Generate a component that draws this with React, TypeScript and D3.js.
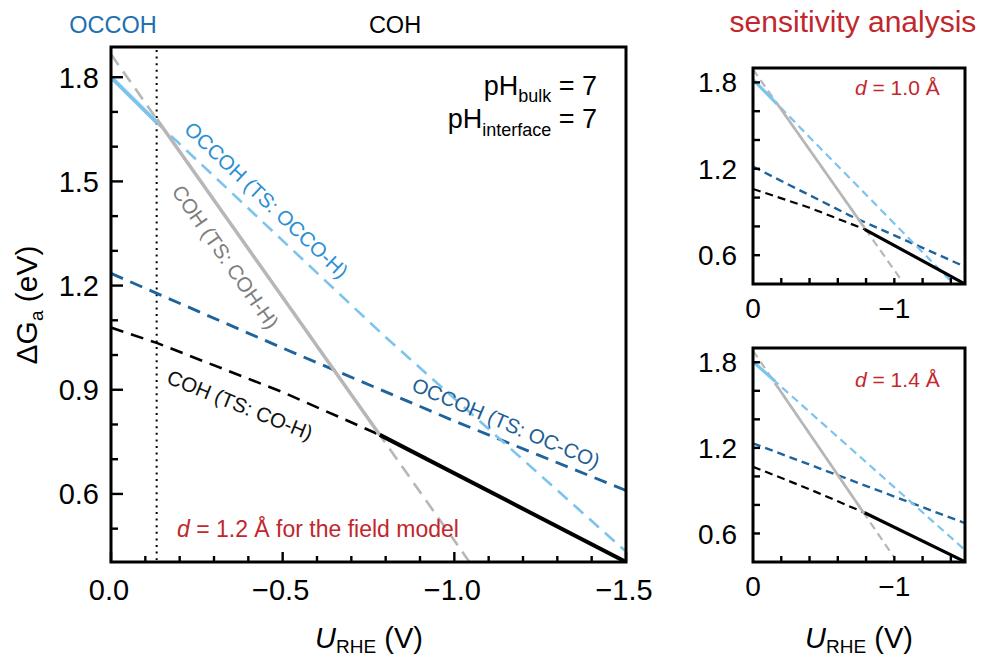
import React from 'react';
import * as d3 from 'd3';

// ---------- data (U in V vs RHE, ΔGa in eV) ----------
// main panel, d = 1.2 Å
const mainOccohOccoHU = [0, -0.135, -0.798, -1.5];
const mainOccohOccoHG = [1.80, 1.668, 1.053, 0.434];
const mainOccohOcCoU = [0, -0.5, -1.0, -1.5];
const mainOccohOcCoG = [1.235, 1.02, 0.81, 0.61];
const mainCohCohHU = [0, -1.047];
const mainCohCohHG = [1.866, 0.40];
const mainCohCoHU = [0, -0.133, -0.5, -0.783, -1.5];
const mainCohCoHG = [1.079, 1.035, 0.893, 0.770, 0.404];
const mainBreaks = [-0.133, -0.783];
const dottedU = -0.133;

// sensitivity, d = 1.0 Å
const d10OccohOccoHU = [0, -1.42];
const d10OccohOccoHG = [1.82, 0.40];
const d10OccohOcCoU = [0, -0.686, -1.5];
const d10OccohOcCoG = [1.215, 0.875, 0.52];
const d10CohCohHU = [0, -1.04];
const d10CohCohHG = [1.89, 0.44];
const d10CohCoHU = [0, -0.4, -0.79, -1.5];
const d10CohCoHG = [1.06, 0.93, 0.78, 0.40];
const d10Breaks = [-0.17, -0.79];

// sensitivity, d = 1.4 Å
const d14OccohOccoHU = [0, -1.5];
const d14OccohOccoHG = [1.804, 0.484];
const d14OccohOcCoU = [0, -1.5];
const d14OccohOcCoG = [1.232, 0.672];
const d14CohCohHU = [0, -1.0];
const d14CohCohHG = [1.88, 0.43];
const d14CohCoHU = [0, -0.4, -0.79, -1.5];
const d14CohCoHG = [1.068, 0.91, 0.745, 0.402];
const d14Breaks = [-0.155, -0.79];

// ticks
const mainYMajor = [0.6, 0.9, 1.2, 1.5, 1.8];
const mainYMinor = [0.5, 0.7, 0.8, 1.0, 1.1, 1.3, 1.4, 1.6, 1.7];
const mainXMajor = [0, -0.5, -1.0, -1.5];
const mainXMinor = [-0.1, -0.2, -0.3, -0.4, -0.6, -0.7, -0.8, -0.9, -1.1, -1.2, -1.3, -1.4];
const smallYTicks = [0.6, 0.8, 1.0, 1.2, 1.4, 1.6, 1.8];
const smallYLabels = [0.6, 1.2, 1.8];
const smallXTicks = [-0.2, -0.4, -0.6, -0.8, -1.0, -1.2, -1.4];
const smallXLabels = [0, -1];

// ---------- style ----------
const FONT = '"Liberation Sans", Arial, Helvetica, sans-serif';
const LIGHT = '#7cc4ec';
const DARK = '#1f639b';
const GRAY = '#b7b7b7';
const RED = '#c1272d';

type P = [number, number];
const mk = (u: number[], g: number[]): P[] => u.map((v, i) => [v, g[i]] as P);

function interp(p: P[], u: number) {
  for (let i = 0; i < p.length - 1; i++) {
    const [u0, g0] = p[i], [u1, g1] = p[i + 1];
    if (u <= u0 && u >= u1) return g0 + ((u - u0) / (u1 - u0)) * (g1 - g0);
  }
  const n = p.length;
  const [u0, g0] = p[n - 2], [u1, g1] = p[n - 1];
  return g0 + ((u - u0) / (u1 - u0)) * (g1 - g0);
}
function seg(p: P[], a: number, b: number): P[] {
  const out: P[] = [[a, interp(p, a)]];
  p.forEach((q) => { if (q[0] < a && q[0] > b) out.push(q); });
  out.push([b, interp(p, b)]);
  return out;
}
const fmtMinus = (v: number, digits: number) => {
  const s = Math.abs(v).toFixed(digits);
  return v < 0 ? '\u2212' + s : s;
};

type PanelProps = {
  id: string;
  left: number; right: number; top: number; bottom: number;
  yDomain: [number, number];
  light: P[]; dark: P[]; gray: P[]; black: P[];
  breaks: number[];
  small: boolean;
};

function Panel(pr: PanelProps) {
  const x = d3.scaleLinear().domain([0, -1.5]).range([pr.left, pr.right]);
  const y = d3.scaleLinear().domain(pr.yDomain).range([pr.bottom, pr.top]);
  const line = d3.line<P>().x((d) => x(d[0])).y((d) => y(d[1]));
  const sm = pr.small;
  const dash = sm ? '8 5' : '13 8';
  const dw = sm ? 2.2 : 2.6;
  const sw = sm ? 3.2 : 4;
  const [b1, b2] = pr.breaks;
  return (
    <g>
      <defs>
        <clipPath id={pr.id}>
          <rect x={pr.left} y={pr.top} width={pr.right - pr.left} height={pr.bottom - pr.top} />
        </clipPath>
      </defs>
      <g clipPath={`url(#${pr.id})`} fill="none">
        <path d={line(pr.gray) || ''} stroke={GRAY} strokeWidth={dw} strokeDasharray={dash} />
        <path d={line(pr.dark) || ''} stroke={DARK} strokeWidth={sm ? 2.4 : 2.9} strokeDasharray={dash} />
        <path d={line(pr.light) || ''} stroke={LIGHT} strokeWidth={dw} strokeDasharray={dash} />
        <path d={line(seg(pr.black, 0, b2)) || ''} stroke="#000" strokeWidth={dw} strokeDasharray={dash} />
        <path d={line(seg(pr.light, 0, b1)) || ''} stroke={LIGHT} strokeWidth={sw} />
        <path d={line(seg(pr.gray, b1, b2)) || ''} stroke={GRAY} strokeWidth={sw - 0.5} />
        <path d={line(seg(pr.black, b2, -1.5)) || ''} stroke="#000" strokeWidth={sw} />
      </g>
      {/* ticks */}
      <g stroke="#000" strokeWidth={2.4}>
        {(sm ? smallYTicks : mainYMajor).map((t) => (
          <line key={'ym' + t} x1={pr.left} x2={pr.left + (sm ? 7 : 12)} y1={y(t)} y2={y(t)} />
        ))}
        {(sm ? [] : mainYMinor).map((t) => (
          <line key={'yn' + t} x1={pr.left} x2={pr.left + 7} y1={y(t)} y2={y(t)} />
        ))}
        {(sm ? smallXTicks : mainXMajor).map((t) => (
          <line key={'xm' + t} x1={x(t)} x2={x(t)} y1={pr.bottom} y2={pr.bottom - (sm ? 6 : 10)} />
        ))}
        {(sm ? [] : mainXMinor).map((t) => (
          <line key={'xn' + t} x1={x(t)} x2={x(t)} y1={pr.bottom} y2={pr.bottom - 6} />
        ))}
      </g>
      <rect x={pr.left} y={pr.top} width={pr.right - pr.left} height={pr.bottom - pr.top}
        fill="none" stroke="#000" strokeWidth={3} />
      {/* tick labels */}
      <g fontFamily={FONT} fontSize={sm ? 28 : 29} fill="#000">
        {(sm ? smallYLabels : mainYMajor).map((t) => (
          <text key={'yl' + t} x={pr.left - (sm ? 16 : 12)} y={y(t)} dy="0.36em" textAnchor="end">
            {t.toFixed(1)}
          </text>
        ))}
        {(sm ? smallXLabels : mainXMajor).map((t) => (
          <text key={'xl' + t} x={x(t) - (sm ? 0 : 2)} y={pr.bottom + (sm ? 34 : 38)} textAnchor="middle">
            {fmtMinus(t, sm ? 0 : 1)}
          </text>
        ))}
      </g>
    </g>
  );
}

function UTitle({ cx }: { cx: number }) {
  return (
    <text x={cx} y={648} textAnchor="middle" fontFamily={FONT} fontSize={29}>
      <tspan fontStyle="italic">U</tspan>
      <tspan fontSize={19} dy={5}>RHE</tspan>
      <tspan dy={-5}> (V)</tspan>
    </text>
  );
}

export default function App() {
  const xM = d3.scaleLinear().domain([0, -1.5]).range([111, 626]);
  return (
    <svg width={982} height={659} style={{ position: 'absolute', left: 0, top: 0, background: '#fff' }}>
      <rect x={0} y={0} width={982} height={659} fill="#fff" />
      {/* dotted boundary line */}
      <line x1={xM(dottedU)} x2={xM(dottedU)} y1={50} y2={560} stroke="#000" strokeWidth={2}
        strokeDasharray="2 4.6" />
      <Panel id="cMain" left={111} right={626} top={47} bottom={562} yDomain={[0.404, 1.887]}
        light={mk(mainOccohOccoHU, mainOccohOccoHG)} dark={mk(mainOccohOcCoU, mainOccohOcCoG)}
        gray={mk(mainCohCohHU, mainCohCohHG)} black={mk(mainCohCoHU, mainCohCoHG)}
        breaks={mainBreaks} small={false} />
      <Panel id="cTop" left={753} right={965} top={68} bottom={284} yDomain={[0.4, 1.9]}
        light={mk(d10OccohOccoHU, d10OccohOccoHG)} dark={mk(d10OccohOcCoU, d10OccohOcCoG)}
        gray={mk(d10CohCohHU, d10CohCohHG)} black={mk(d10CohCoHU, d10CohCoHG)}
        breaks={d10Breaks} small={true} />
      <Panel id="cBot" left={753} right={965} top={348} bottom={562} yDomain={[0.4, 1.9]}
        light={mk(d14OccohOccoHU, d14OccohOccoHG)} dark={mk(d14OccohOcCoU, d14OccohOcCoG)}
        gray={mk(d14CohCohHU, d14CohCohHG)} black={mk(d14CohCoHU, d14CohCoHG)}
        breaks={d14Breaks} small={true} />

      <g fontFamily={FONT}>
        {/* headers */}
        <text x={113} y={33} textAnchor="middle" fontSize={23.5} fill="#1e70b0">OCCOH</text>
        <text x={395} y={33} textAnchor="middle" fontSize={23.5} fill="#000">COH</text>
        <text x={853} y={32} textAnchor="middle" fontSize={30} fill={RED}>sensitivity analysis</text>

        {/* pH */}
        <text x={597} y={95} textAnchor="end" fontSize={27}>
          pH<tspan fontSize={18} dy={7}>bulk</tspan><tspan dy={-7}> = 7</tspan>
        </text>
        <text x={597} y={128} textAnchor="end" fontSize={27}>
          pH<tspan fontSize={18} dy={8}>interface</tspan><tspan dy={-8}> = 7</tspan>
        </text>

        {/* curve labels */}
        <text transform="translate(266.5,200) rotate(43.5)" textAnchor="middle" dy="0.35em"
          fontSize={20.5} fill="#2a8fd3">OCCOH (TS: OCCO-H)</text>
        <text transform="translate(225.5,257) rotate(55)" textAnchor="middle" dy="0.35em"
          fontSize={20.5} fill="#7d7d7d">COH (TS: COH-H)</text>
        <text transform="translate(240,405) rotate(22)" textAnchor="middle" dy="0.35em"
          fontSize={20.5} fill="#111">COH (TS: CO-H)</text>
        <text transform="translate(506,423) rotate(23)" textAnchor="middle" dy="0.35em"
          fontSize={20.5} fill="#1f5f96">OCCOH (TS: OC-CO)</text>

        {/* d annotations */}
        <text x={177} y={537} fontSize={23} fill={RED}>
          <tspan fontStyle="italic">d</tspan> = 1.2 Å for the field model
        </text>
        <text x={855} y={95} fontSize={21} fill={RED}>
          <tspan fontStyle="italic">d</tspan> = 1.0 Å
        </text>
        <text x={855} y={387} fontSize={21} fill={RED}>
          <tspan fontStyle="italic">d</tspan> = 1.4 Å
        </text>

        {/* axis titles */}
        <text transform="translate(37,305) rotate(-90)" textAnchor="middle" fontSize={30}>
          ΔG<tspan fontSize={19} dy={6}>a</tspan><tspan dy={-6}> (eV)</tspan>
        </text>
      </g>
      <UTitle cx={369} />
      <UTitle cx={859} />
    </svg>
  );
}
